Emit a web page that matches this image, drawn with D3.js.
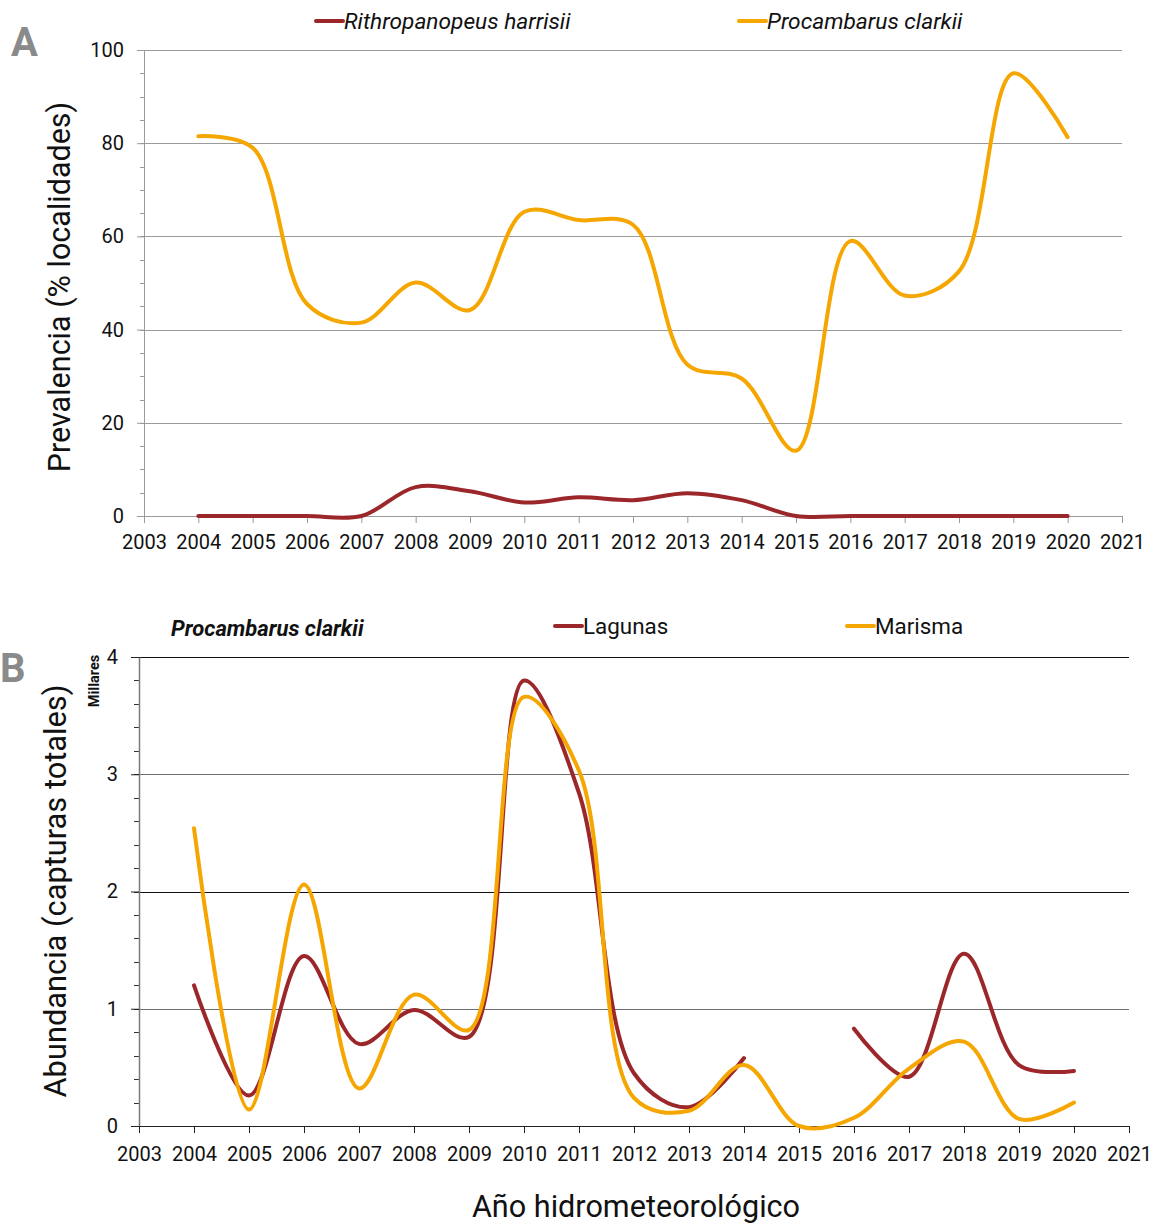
<!DOCTYPE html>
<html>
<head>
<meta charset="utf-8">
<script src="https://cdn.jsdelivr.net/npm/d3@7"></script>
<style>
  body { margin: 0; background: #fff; }
  svg { display: block; font-family: Roboto, "Noto Sans", sans-serif; }
</style>
</head>
<body>
<svg id="chart" width="1153" height="1223"></svg>
<script>
// Hydrometeorological years
const years = [2004, 2005, 2006, 2007, 2008, 2009, 2010, 2011, 2012, 2013, 2014, 2015, 2016, 2017, 2018, 2019, 2020];
const yearTicks = [2003, 2004, 2005, 2006, 2007, 2008, 2009, 2010, 2011, 2012, 2013, 2014, 2015, 2016, 2017, 2018, 2019, 2020, 2021];

// Panel A: prevalence (% of sampled localities)
const rithropanopeusPrev = [0, 0, 0, 0, 6.2, 5.3, 2.9, 4.0, 3.4, 4.9, 3.4, 0, 0, 0, 0, 0, 0];
const procambarusPrev = [81.5, 79, 45.5, 41.5, 50.1, 44.2, 65.3, 63.5, 62.5, 32.5, 29.5, 14, 59, 47.3, 52.5, 95, 81.3];
const prevTicks = [0, 20, 40, 60, 80, 100];
const prevMinorTicks = [0, 5, 10, 15, 20, 25, 30, 35, 40, 45, 50, 55, 60, 65, 70, 75, 80, 85, 90, 95, 100];

// Panel B: Procambarus clarkii abundance (total captures, thousands)
const lagunas = [1.2, 0.26, 1.45, 0.7, 0.99, 0.76, 3.8, 2.84, 0.45, 0.16, 0.58, null, 0.83, 0.42, 1.47, 0.52, 0.47];
const marisma = [2.54, 0.14, 2.06, 0.32, 1.12, 0.82, 3.66, 3.03, 0.24, 0.13, 0.52, 0, 0.07, 0.49, 0.72, 0.06, 0.2];
const abundTicks = [0, 1, 2, 3, 4];
const abundMinorTicks = [0, 0.2, 0.4, 0.6, 0.8, 1, 1.2, 1.4, 1.6, 1.8, 2, 2.2, 2.4, 2.6, 2.8, 3, 3.2, 3.4, 3.6, 3.8, 4];

const RED = "#9C272A";
const ORANGE = "#F6A600";

const svg = d3.select("#chart");

const toPoints = vals => years.map((y, i) => ({ x: y, v: vals[i] }));

function drawSeries(g, x, y, vals, color) {
  const line = d3.line()
    .defined(d => d.v != null)
    .x(d => x(d.x))
    .y(d => y(d.v))
    .curve(d3.curveCatmullRom.alpha(0.5));
  g.append("path")
    .datum(toPoints(vals))
    .attr("fill", "none")
    .attr("stroke", color)
    .attr("stroke-width", 4)
    .attr("stroke-linecap", "round")
    .attr("stroke-linejoin", "round")
    .attr("d", line);
}

function legendItem(g, x0, yc, color, label, style, size) {
  g.append("line")
    .attr("x1", x0).attr("x2", x0 + 27)
    .attr("y1", yc).attr("y2", yc)
    .attr("stroke", color).attr("stroke-width", 4).attr("stroke-linecap", "round");
  g.append("text")
    .attr("x", x0 + 28).attr("y", yc + 8)
    .attr("font-size", size)
    .attr("font-style", style)
    .attr("fill", "#111")
    .text(label);
}

// ---------------- Panel A ----------------
{
  const x = d3.scaleLinear().domain([2003, 2021]).range([144, 1122]);
  const y = d3.scaleLinear().domain([0, 100]).range([516, 50]);
  const g = svg.append("g");

  // horizontal gridlines
  g.append("g").selectAll("line").data(prevTicks.filter(t => t > 0)).join("line")
    .attr("x1", x(2003)).attr("x2", x(2021))
    .attr("y1", d => Math.round(y(d)) + 0.5).attr("y2", d => Math.round(y(d)) + 0.5)
    .attr("stroke", "#9a9a9a").attr("stroke-width", 1);

  // minor ticks on the value axis
  g.append("g").selectAll("line").data(prevMinorTicks).join("line")
    .attr("x1", x(2003) - 4).attr("x2", x(2003))
    .attr("y1", d => Math.round(y(d)) + 0.5).attr("y2", d => Math.round(y(d)) + 0.5)
    .attr("stroke", "#9a9a9a");

  const yAxis = g.append("g")
    .attr("transform", `translate(${x(2003)},0)`)
    .call(d3.axisLeft(y).tickValues(prevTicks).tickSize(7).tickPadding(13).tickSizeOuter(0));
  yAxis.select(".domain").attr("stroke", "#9a9a9a");
  yAxis.selectAll(".tick line").attr("stroke", "#9a9a9a");
  yAxis.selectAll("text").attr("font-size", 20).attr("fill", "#111").attr("font-family", "Roboto, sans-serif");

  const xAxis = g.append("g")
    .attr("transform", `translate(0,${y(0)})`)
    .call(d3.axisBottom(x).tickValues(yearTicks).tickFormat(d3.format("d")).tickSize(7).tickPadding(12).tickSizeOuter(0));
  xAxis.select(".domain").attr("stroke", "#9a9a9a");
  xAxis.selectAll(".tick line").attr("stroke", "#9a9a9a");
  xAxis.selectAll("text").attr("font-size", 20).attr("fill", "#111").attr("font-family", "Roboto, sans-serif");

  drawSeries(g, x, y, rithropanopeusPrev, RED);
  drawSeries(g, x, y, procambarusPrev, ORANGE);

  // axis title
  g.append("text")
    .attr("transform", "translate(70,287) rotate(-90)")
    .attr("text-anchor", "middle")
    .attr("font-size", 30.5)
    .attr("fill", "#111")
    .text("Prevalencia (% localidades)");

  // legend
  legendItem(g, 316, 21, RED, "Rithropanopeus harrisii", "italic", 22.7);
  legendItem(g, 739, 21, ORANGE, "Procambarus clarkii", "italic", 22.7);

  // panel letter
  g.append("text")
    .attr("x", 11).attr("y", 56)
    .attr("font-size", 40).attr("font-weight", "bold")
    .attr("fill", "#8a8a8a")
    .text("A");
}

// ---------------- Panel B ----------------
{
  const x = d3.scaleLinear().domain([2003, 2021]).range([139, 1129]);
  const y = d3.scaleLinear().domain([0, 4]).range([1126, 657]);
  const g = svg.append("g");

  // horizontal gridlines
  g.append("g").selectAll("line").data(abundTicks.filter(t => t > 0)).join("line")
    .attr("x1", x(2003)).attr("x2", x(2021))
    .attr("y1", d => Math.round(y(d)) + 0.5).attr("y2", d => Math.round(y(d)) + 0.5)
    .attr("stroke", d => d % 2 === 0 ? "#111" : "#6e6e6e").attr("stroke-width", 1.2);

  // minor ticks on the value axis
  g.append("g").selectAll("line").data(abundMinorTicks).join("line")
    .attr("x1", x(2003) - 5).attr("x2", x(2003))
    .attr("y1", d => Math.round(y(d)) + 0.5).attr("y2", d => Math.round(y(d)) + 0.5)
    .attr("stroke", "#333");

  const yAxis = g.append("g")
    .attr("transform", `translate(${x(2003)},0)`)
    .call(d3.axisLeft(y).tickValues(abundTicks).tickFormat(d3.format("d")).tickSize(8).tickPadding(13).tickSizeOuter(0));
  yAxis.select(".domain").attr("stroke", "#7a7a7a").attr("stroke-width", 1.5);
  yAxis.selectAll(".tick line").attr("stroke", "#222");
  yAxis.selectAll("text").attr("font-size", 20).attr("fill", "#111").attr("font-family", "Roboto, sans-serif");

  const xAxis = g.append("g")
    .attr("transform", `translate(0,${y(0)})`)
    .call(d3.axisBottom(x).tickValues(yearTicks).tickFormat(d3.format("d")).tickSize(7).tickPadding(14).tickSizeOuter(0));
  xAxis.select(".domain").attr("stroke", "#222").attr("stroke-width", 1.2);
  xAxis.selectAll(".tick line").attr("stroke", "#222");
  xAxis.selectAll("text").attr("font-size", 20).attr("fill", "#111").attr("font-family", "Roboto, sans-serif");

  drawSeries(g, x, y, lagunas, RED);
  drawSeries(g, x, y, marisma, ORANGE);

  // units note
  g.append("text")
    .attr("transform", "translate(99,681) rotate(-90)")
    .attr("text-anchor", "middle")
    .attr("font-size", 14.5).attr("font-weight", "bold")
    .attr("fill", "#111")
    .text("Millares");

  // axis titles
  g.append("text")
    .attr("transform", "translate(66,891) rotate(-90)")
    .attr("text-anchor", "middle")
    .attr("font-size", 30.8)
    .attr("fill", "#111")
    .text("Abundancia (capturas totales)");

  g.append("text")
    .attr("x", 636).attr("y", 1217)
    .attr("text-anchor", "middle")
    .attr("font-size", 30.6)
    .attr("fill", "#111")
    .text("Año hidrometeorológico");

  // title and legend
  g.append("text")
    .attr("x", 171).attr("y", 636)
    .attr("font-size", 22).attr("font-weight", "bold").attr("font-style", "italic")
    .attr("fill", "#111")
    .text("Procambarus clarkii");

  legendItem(g, 555, 626, RED, "Lagunas", "normal", 22.4);
  legendItem(g, 847, 626, ORANGE, "Marisma", "normal", 22.4);

  // panel letter
  g.append("text")
    .attr("x", 0).attr("y", 682)
    .attr("font-size", 40).attr("font-weight", "bold")
    .attr("fill", "#8a8a8a")
    .text("B");
}
</script>
</body>
</html>
